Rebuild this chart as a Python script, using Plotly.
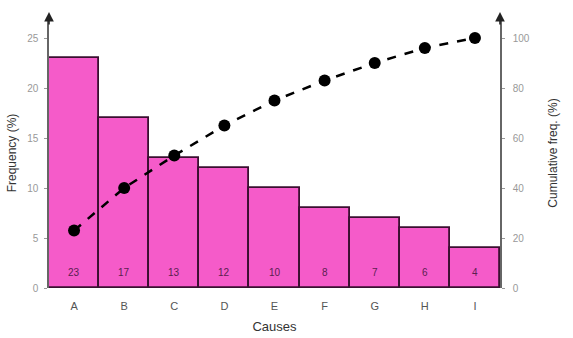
import plotly.graph_objects as go

causes = ["A", "B", "C", "D", "E", "F", "G", "H", "I"]
freq = [23, 17, 13, 12, 10, 8, 7, 6, 4]
cum = [23, 40, 53, 65, 75, 83, 90, 96, 100]
left_ticks = [0, 5, 10, 15, 20, 25]
right_ticks = [0, 20, 40, 60, 80, 100]

fig = go.Figure()
fig.add_trace(go.Bar(
    x=causes, y=freq, width=1.0,
    marker=dict(color="#F55BC9", line=dict(color="#3a1030", width=1.8)),
    yaxis="y", showlegend=False,
))
fig.add_trace(go.Scatter(
    x=causes, y=cum, mode="lines+markers", yaxis="y2",
    line=dict(color="black", width=2.5, dash="dash"),
    marker=dict(color="black", size=12), showlegend=False,
))
for c, v in zip(causes, freq):
    fig.add_annotation(x=c, y=1.6, xref="x", yref="y", text=str(v), showarrow=False,
                       font=dict(size=10, color="#5a2050", family="Liberation Sans"))

fig.update_layout(
    width=573, height=338,
    margin=dict(l=49, r=73, t=18, b=50),
    plot_bgcolor="white", paper_bgcolor="white",
    bargap=0,
    xaxis=dict(title=dict(text="Causes", font=dict(size=13, color="#333", family="Liberation Sans"), standoff=10),
               tickfont=dict(size=11, color="#555", family="Liberation Sans"),
               ticklabelstandoff=10, automargin=False,
               showline=False, ticks="", range=[-0.5, 8.5]),
    yaxis=dict(range=[0, 27], tickvals=left_ticks, showgrid=False, zeroline=False,
               showline=True, linecolor="#666", linewidth=1.5,
               ticks="outside", ticklen=3, tickcolor="#999",
               ticklabelstandoff=4, automargin=False,
               tickfont=dict(size=10, color="#999", family="Liberation Sans"),
               title=dict(text="Frequency (%)", font=dict(size=12, color="#333", family="Liberation Sans"), standoff=8)),
    yaxis2=dict(range=[0, 108], tickvals=right_ticks, overlaying="y", side="right",
                showgrid=False, zeroline=False,
                showline=True, linecolor="#666", linewidth=1.5,
                ticks="outside", ticklen=3, tickcolor="#999",
                ticklabelstandoff=6, automargin=False,
                tickfont=dict(size=10, color="#999", family="Liberation Sans"),
                title=dict(text="Cumulative freq. (%)", font=dict(size=12, color="#333", family="Liberation Sans"), standoff=20)),
)

# axis arrows
for xp in (0, 1):
    fig.add_annotation(x=xp, y=1.0, xref="paper", yref="paper",
                       ax=0, ay=14, axref="pixel", ayref="pixel",
                       yshift=6,
                       showarrow=True, arrowhead=2, arrowsize=1.2, arrowwidth=1.6,
                       arrowcolor="#222", text="")

fig.write_html("out.html")
